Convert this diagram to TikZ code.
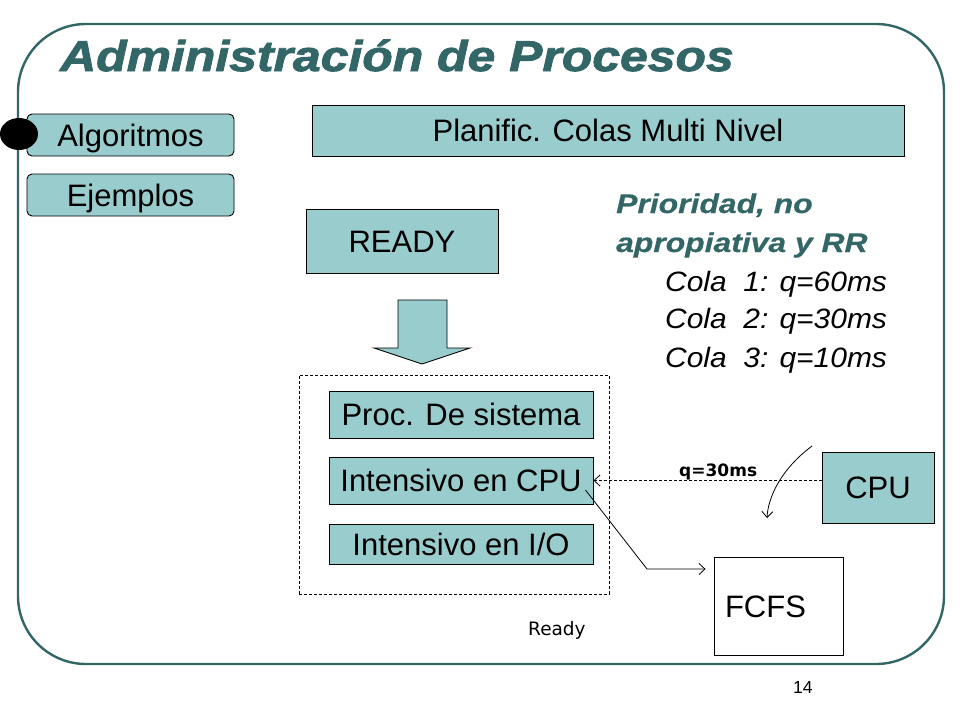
\documentclass[tikz,border=0pt]{standalone}
\usepackage{fontspec}
\setmainfont{Liberation Sans}
\newfontfamily\djv{DejaVu Sans}
\newfontfamily\ttlfont[FakeStretch=1.16,FakeBold=2]{Liberation Sans}
\newfontfamily\prifont[FakeStretch=1.18,FakeBold=0.5]{Liberation Sans}
\newfontfamily\colfont[FakeStretch=1.07]{Liberation Sans}
\usetikzlibrary{arrows.meta,calc,shapes.geometric}
\definecolor{teal1}{HTML}{99CCCC}
\definecolor{frm}{HTML}{336666}
\begin{document}
\begin{tikzpicture}[x=1pt,y=-1pt,
  boxtxt/.style={font=\fontsize{31pt}{37pt}\selectfont, text height=22pt, text depth=0pt, inner sep=0pt},
  tbox/.style={boxtxt, draw=black, line width=0.9pt, fill=teal1},
  rbox/.style={tbox, rounded corners=5pt},
  barb/.style={-{Straight Barb[length=6pt,width=11pt]}},
  plain/.style={anchor=base west, inner sep=0pt},
  dsh/.style={dashed, dash pattern=on 3pt off 2pt, line width=0.8pt},
  pri/.style={plain, text=frm, font=\prifont\bfseries\itshape\fontsize{27pt}{32pt}\selectfont},
  cola/.style={plain, font=\colfont\itshape\fontsize{28pt}{33pt}\selectfont},
]
\useasboundingbox[fill=white] (0,0) rectangle (960,720);
\draw[frm, line width=2.4pt, rounded corners=68pt] (18,24) rectangle (944,664);

\node[plain, text=frm, font=\ttlfont\bfseries\itshape\fontsize{43pt}{50pt}\selectfont] (title) at (60,71) {Administración de Procesos};

\node[rbox, minimum width=207pt, minimum height=42pt] (alg) at (130.5,135) {Algoritmos};
\node[rbox, minimum width=207pt, minimum height=42pt] (ej) at (130.5,195) {Ejemplos};
\node[ellipse, fill=black, inner sep=0pt, minimum width=38pt, minimum height=32pt] (dot) at (19,134) {};

\node[tbox, minimum width=592pt, minimum height=51pt] (plan) at (608,130.5) {Planific. Colas Multi Nivel};
\node[tbox, minimum width=192pt, minimum height=64pt] (ready) at (402,241) {READY};

\node[pri] (p1) at (616,213) {Prioridad, no};
\node[pri] (p2) at (616,252) {apropiativa y RR};
\node[cola] (c1) at (665,291) {Cola\ \ 1: q=60ms};
\node[cola] (c2) at (665,328) {Cola\ \ 2: q=30ms};
\node[cola] (c3) at (665,367) {Cola\ \ 3: q=10ms};

\draw[fill=teal1, line width=0.9pt, line join=miter] (398,300) -- (447,300) -- (447,348) -- (470,348) -- (422,364) -- (374,348) -- (398,348) -- cycle;

\node[draw, dsh, minimum width=310pt, minimum height=219pt, inner sep=0pt] (rq) at (454,484.5) {};
\node[tbox, minimum width=264pt, minimum height=47pt] (proc) at (461,414.5) {Proc. De sistema};
\node[tbox, minimum width=264pt, minimum height=47pt] (icpu) at (461,480.5) {Intensivo en CPU};
\node[tbox, minimum width=264pt, minimum height=40pt] (iio) at (461,544) {Intensivo en I/O};

\node[tbox, minimum width=112pt, minimum height=71pt] (cpu) at (878,487.5) {CPU};
\node[boxtxt, draw=black, line width=0.9pt, fill=white, minimum width=129pt, minimum height=98pt, text width=107pt, align=left, inner xsep=11pt] (fcfs) at (778.5,606) {FCFS};

\node[plain, font=\djv\fontsize{18.5pt}{22pt}\selectfont] (readylbl) at (528,635) {Ready};
\node[plain, font=\fontsize{17.5pt}{21pt}\selectfont] (pnum) at (793,693) {14};
\node[plain, font=\djv\bfseries\fontsize{17pt}{20pt}\selectfont] (qlbl) at (679,476) {q=30ms};

\draw[barb, dsh] (cpu.west |- icpu.east) -- (icpu.east);

\coordinate (st) at ($(icpu.east)+(-8,9.5)$);
\coordinate (bend) at (647,569);
\draw[barb, line width=0.8pt] (st) -- (bend) -- ([xshift=-8pt]fcfs.west |- bend);

\coordinate (ca) at (812,446);
\coordinate (cb) at (767,518);
\draw[barb, line width=0.8pt] (ca) .. controls (780,470) and (768,498) .. (cb);
\end{tikzpicture}
\end{document}
